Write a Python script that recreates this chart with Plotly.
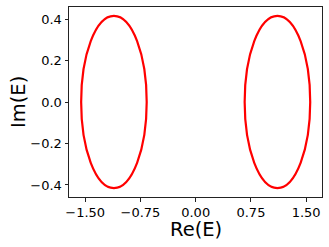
import plotly.graph_objects as go

# Bounding boxes of the two closed spectral loops (Re(E), Im(E))
loop_names = ["left loop", "right loop"]
re_min = [-1.555, 0.665]
re_max = [-0.665, 1.555]
im_min = [-0.415, -0.415]
im_max = [0.415, 0.415]

x_ticks = [-1.5, -0.75, 0.0, 0.75, 1.5]
y_ticks = [-0.4, -0.2, 0.0, 0.2, 0.4]

fig = go.Figure()
# invisible trace to establish axes
fig.add_trace(go.Scatter(x=[re_min[0], re_max[1]], y=[im_min[0], im_max[0]],
                         mode="markers", marker=dict(opacity=0), showlegend=False,
                         hoverinfo="skip"))
for i, name in enumerate(loop_names):
    fig.add_shape(type="circle", xref="x", yref="y",
                  x0=re_min[i], x1=re_max[i], y0=im_min[i], y1=im_max[i],
                  line=dict(color="#ff0000", width=2.2), name=name)

font = "DejaVu Sans"
L, R, T, B = 69, 7, 7, 50
W, H = 329, 247
pw, ph = W - L - R, H - T - B
TF = 13
fig.update_layout(
    width=W, height=H,
    margin=dict(l=L, r=R, t=T, b=B, autoexpand=False),
    paper_bgcolor="white", plot_bgcolor="white",
    font=dict(family=font, color="black", size=TF),
    showlegend=False,
)
fig.update_xaxes(range=[-1.72, 1.715], tickvals=x_ticks, tickformat=".2f",
                 showgrid=False, zeroline=False, showline=True, mirror=True,
                 linecolor="#222222", linewidth=1, ticks="outside", ticklen=3.5,
                 tickcolor="#222222", tickfont=dict(size=TF), automargin=False)
fig.update_yaxes(range=[-0.458, 0.458], tickvals=y_ticks, tickformat=".1f",
                 showgrid=False, zeroline=False, showline=True, mirror=True,
                 linecolor="#222222", linewidth=1, ticks="outside", ticklen=3.5,
                 tickcolor="#222222", tickfont=dict(size=TF), automargin=False)
fig.add_annotation(text="Re(E)", xref="paper", yref="paper",
                   x=0.5, y=(T + ph - 229.5) / ph, xanchor="center", yanchor="middle",
                   showarrow=False, font=dict(size=19.5), borderpad=0)
fig.add_annotation(text="Im(E)", xref="paper", yref="paper",
                   x=(18 - L) / pw, y=0.5, xanchor="center", yanchor="middle",
                   textangle=-90, showarrow=False, font=dict(size=19.5), borderpad=0)

fig.write_html("out.html", post_script="document.body.style.margin='0';",
               config={"displayModeBar": False})
